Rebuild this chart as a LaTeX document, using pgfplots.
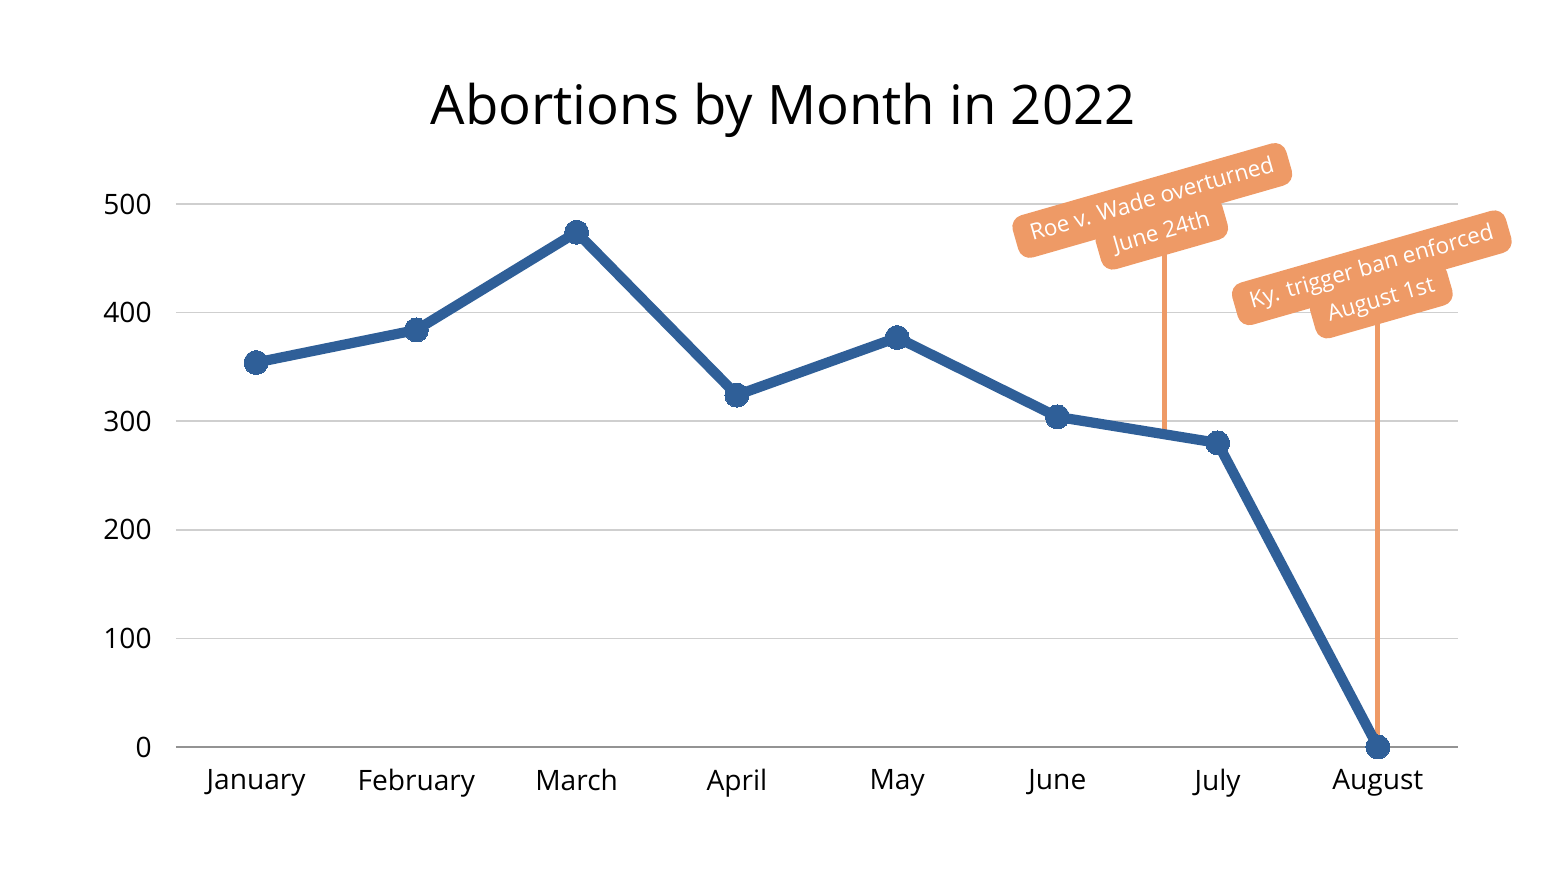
\documentclass[border=0pt]{standalone}
\usepackage{pgfplots}
\pgfplotsset{compat=1.18}
\usetikzlibrary{calc}
\usepackage{fontspec}
\setmainfont{Open Sans}
\definecolor{lineblue}{HTML}{2F5F98}
\definecolor{noteorange}{HTML}{EE9A66}
\definecolor{gridgray}{HTML}{CFCFCF}
\tikzset{
  notebox/.style={rotate=16, anchor=south, fill=noteorange,
    rounded corners=1.2mm, inner xsep=1.6mm, inner ysep=1.1mm,
    text height=4.8pt, text depth=1.4pt,
    font=\fontsize{6.4}{7}\selectfont},
  notetext/.style={rotate=16, text=white, inner sep=0pt,
    text height=4.8pt, text depth=1.4pt,
    font=\fontsize{6.4}{7}\selectfont}}
\begin{document}
\begin{tikzpicture}
\begin{axis}[
  name=main,
  scale only axis,
  width=128.2mm, height=54.3mm,
  xmin=-0.5, xmax=7.5,
  ymin=0, ymax=500,
  clip=false,
  axis line style={draw=none},
  major tick length=0pt,
  xtick={0,...,7},
  xticklabels={January,February,March,April,May,June,July,August},
  ytick={100,200,300,400,500},
  extra y ticks={0},
  extra y tick style={grid style={draw=gray!85, line width=0.5pt}},
  ymajorgrids,
  grid style={draw=gridgray, line width=0.5pt},
  tick label style={font=\fontsize{8}{10}\selectfont, black},
  yticklabel style={xshift=-1.2mm},
  xticklabel style={yshift=-1.0mm},
  /pgf/number format/assume math mode=true,
]
% annotation leader lines
\addplot[noteorange, line width=1.4pt, forget plot] coordinates {(5.67,290) (5.67,462)};
\addplot[noteorange, line width=1.4pt, forget plot] coordinates {(7.0,0) (7.0,398)};
% data
\addplot[lineblue, line width=2.9pt, mark=*, mark size=1.2mm,
  mark options={fill=lineblue, draw=lineblue, line width=0pt}] coordinates {
  (0,354) (1,384) (2,474) (3,324) (4,377) (5,304) (6,280) (7,0)
};
% annotation labels: tab-shaped boxes, then the text of each line
\node[notebox] (r2) at (axis cs:5.69,453) {\phantom{June 24th}};
\node[notebox] (r1) at ($(r2.north)!1.1mm!(r2.south)$) {\phantom{Roe v. Wade overturned}};
\node[notetext] at (r1.center) {Roe v. Wade overturned};
\node[notetext] at (r2.center) {June 24th};
\node[notebox] (k2) at (axis cs:7.06,391) {\phantom{August 1st}};
\node[notebox] (k1) at ($(k2.north)!1.1mm!(k2.south)$) {\phantom{Ky. trigger ban enforced}};
\node[notetext] at (k1.center) {Ky. trigger ban enforced};
\node[notetext] at (k2.center) {August 1st};
% title
\node[anchor=base, font=\fontsize{15.5}{18}\selectfont] at (rel axis cs:0.4735,1.147)
  {Abortions by Month in 2022};
\end{axis}
\path[use as bounding box] ([xshift=-17.6mm, yshift=-13.5mm]main.south west)
  rectangle ([xshift=11mm, yshift=20.4mm]main.north east);
\end{tikzpicture}
\end{document}
